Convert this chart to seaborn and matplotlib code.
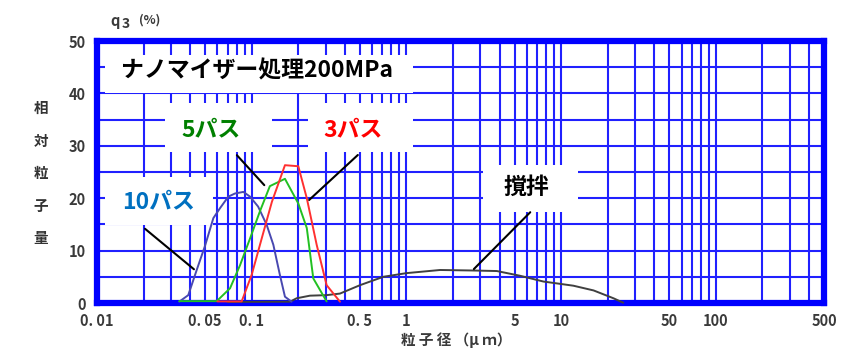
import numpy as np
import pandas as pd
import matplotlib
matplotlib.use("Agg")
import matplotlib.pyplot as plt
import seaborn as sns
from matplotlib.ticker import FixedLocator, NullFormatter
from matplotlib.patches import Rectangle

# ---------------- data ----------------
x_10pass = [0.034, 0.0389, 0.0441, 0.0499, 0.0565, 0.0624, 0.0706, 0.078, 0.0883, 0.0975,
            0.110, 0.125, 0.138, 0.152, 0.164, 0.181]
y_10pass = [0.25, 1.5, 6.3, 10.9, 16.2, 18.1, 20.3, 20.9, 21.2, 20.3,
            18.4, 14.9, 11.1, 5.4, 1.2, 0.25]

x_5pass = [0.034, 0.0594, 0.0724, 0.084, 0.0975, 0.113, 0.131, 0.164, 0.200, 0.227, 0.250, 0.305]
y_5pass = [0.35, 0.35, 2.8, 7.2, 12.3, 17.5, 22.3, 23.7, 19.0, 14.3, 4.7, 0.3]

x_3pass = [0.060, 0.0861, 0.100, 0.116, 0.135, 0.164, 0.200, 0.227, 0.263, 0.305, 0.372]
y_3pass = [0.3, 0.3, 5.4, 12.3, 19.3, 26.3, 26.1, 20.0, 11.1, 3.4, 0.25]

x_stir = [0.070, 0.177, 0.195, 0.238, 0.305, 0.372, 0.501, 0.709, 1.00, 1.65, 2.71, 3.84,
          5.42, 7.67, 12.0, 16.2, 21.8, 25.2]
y_stir = [0.2, 0.25, 0.9, 1.4, 1.5, 1.8, 3.4, 5.0, 5.7, 6.3, 6.2, 6.1,
          5.2, 4.1, 3.3, 2.4, 0.9, 0.05]

x_tick_vals = [0.01, 0.05, 0.1, 0.5, 1, 5, 10, 50, 100, 500]
x_tick_labels = ["0. 01", "0. 05", "0. 1", "0. 5", "1", "5", "10", "50", "100", "500"]
y_tick_vals = [0, 10, 20, 30, 40, 50]

title_text = "ナノマイザー処理200MPa"
label_10 = "10パス"
label_5 = "5パス"
label_3 = "3パス"
label_stir = "撹拌"

# ---------------- style ----------------
sns.set_style("white")
plt.rcParams['font.family'] = ['Noto Sans CJK JP', 'DejaVu Sans']

W, H = 853, 353
fig = plt.figure(figsize=(W / 100, H / 100), dpi=100)
ax = fig.add_axes([97 / W, 1 - 303 / H, (824 - 97) / W, (303 - 41) / H])

grid_blue = "#2020ff"
ax.set_xscale("log")
ax.set_xlim(0.01, 500)
ax.set_ylim(0, 50)

# grid
minor_x = [m * 10.0 ** e for e in range(-2, 3) for m in range(1, 10) if m * 10.0 ** e <= 500]
ax.xaxis.set_major_locator(FixedLocator(x_tick_vals))
ax.xaxis.set_minor_locator(FixedLocator(minor_x))
ax.xaxis.set_minor_formatter(NullFormatter())
ax.set_xticklabels(x_tick_labels)
ax.yaxis.set_major_locator(FixedLocator(y_tick_vals))
ax.yaxis.set_minor_locator(FixedLocator([5, 15, 25, 35, 45]))
ax.grid(True, which="both", color=grid_blue, lw=1.5, zorder=0)
ax.set_axisbelow(True)
ax.tick_params(which="both", length=0)
ax.tick_params(axis="x", pad=7)
ax.tick_params(axis="y", pad=8)
for lab in ax.get_xticklabels() + ax.get_yticklabels():
    lab.set_fontsize(10.5)
    lab.set_fontweight("bold")
    lab.set_color("#3a3a3a")
for s in ax.spines.values():
    s.set_color("#0000ff")
    s.set_linewidth(4.5)
    s.set_zorder(3)

# white label boxes (cover grid)
boxes = [
    (0.0113, 1.103, 40.1, 47.3),
    (0.0275, 0.135, 28.8, 38.2),
    (0.231, 1.103, 28.8, 38.2),
    (0.0113, 0.0562, 14.9, 24.0),
    (3.13, 12.9, 17.4, 26.3),
]
for x0, x1, y0, y1 in boxes:
    ax.add_patch(Rectangle((x0, y0), x1 - x0, y1 - y0, facecolor="white",
                           edgecolor="none", zorder=2))

# curves
series = [
    (x_stir, y_stir, "#404040"),
    (x_10pass, y_10pass, "#4848b0"),
    (x_5pass, y_5pass, "#22c022"),
    (x_3pass, y_3pass, "#ff3030"),
]
for xs, ys, col in series:
    df = pd.DataFrame({"x": xs, "y": ys})
    sns.lineplot(data=df, x="x", y="y", ax=ax, color=col, lw=1.4, sort=False,
                 estimator=None, zorder=4, clip_on=False)

ax.set_xlabel("")
ax.set_ylabel("")

# texts
fs = 16.5
ax.text(0.108, 44.3, title_text, fontsize=fs, fontweight="bold", color="black",
        ha="center", va="center", zorder=5)
ax.text(0.0545, 33.0, label_5, fontsize=fs, fontweight="bold", color="#008000",
        ha="center", va="center", zorder=5)
ax.text(0.452, 33.0, label_3, fontsize=fs, fontweight="bold", color="#ff0000",
        ha="center", va="center", zorder=5)
ax.text(0.025, 19.4, label_10, fontsize=fs, fontweight="bold", color="#0070c0",
        ha="center", va="center", zorder=5)
ax.text(5.93, 22.1, label_stir, fontsize=fs, fontweight="bold", color="black",
        ha="center", va="center", zorder=5)

# leader lines
leaders = [
    ((0.0198, 14.5), (0.0437, 6.1)),
    ((0.078, 28.6), (0.124, 22.1)),
    ((0.50, 28.6), (0.228, 19.3)),
    ((6.5, 17.7), (2.65, 6.1)),
]
for (xa, ya), (xb, yb) in leaders:
    ax.annotate("", xy=(xb, yb), xytext=(xa, ya),
                arrowprops=dict(arrowstyle="-", color="black", lw=1.5), zorder=6)

# axis labels
for ch, yp in zip("相対粒子量", [108, 141, 173, 206, 238]):
    fig.text(41 / W, 1 - yp / H, ch, fontsize=10.5, fontweight="bold", color="#333333",
             ha="center", va="center")
fig.text(115 / W, 1 - 21 / H, "q", fontsize=10.5, fontweight="bold", color="#3a3a3a",
         ha="center", va="center")
fig.text(126 / W, 1 - 24 / H, "3", fontsize=10, fontweight="bold", color="#3a3a3a",
         ha="center", va="center")
fig.text(150 / W, 1 - 20 / H, "(%)", fontsize=9, fontweight="bold", color="#3a3a3a",
         ha="center", va="center")
fig.text(456 / W, 1 - 340 / H, "粒 子 径 （μ ｍ）", fontsize=10.5, fontweight="bold",
         color="#3a3a3a", ha="center", va="center")

fig.savefig("out.png", dpi=100)
